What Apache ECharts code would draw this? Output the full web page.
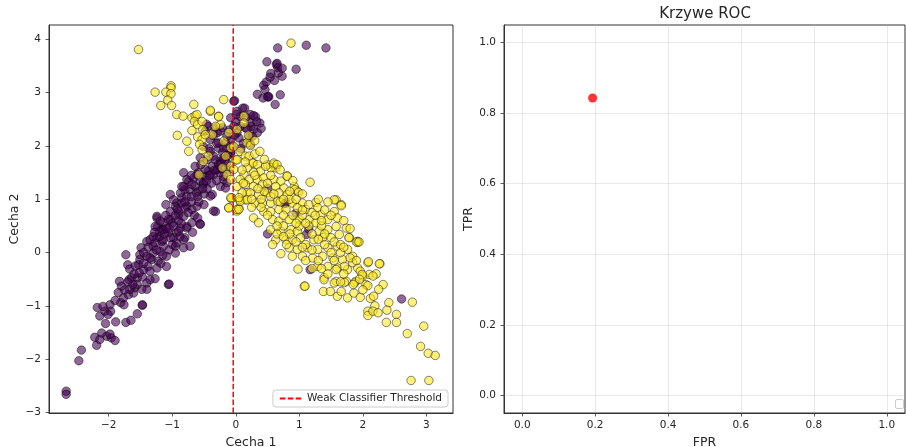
<!DOCTYPE html>
<html>
<head>
<meta charset="utf-8">
<script src="https://cdn.jsdelivr.net/npm/echarts@6/dist/echarts.min.js"></script>
<style>
  html, body { margin: 0; padding: 0; background: #ffffff; }
  #chart { width: 906px; height: 447px; }
</style>
</head>
<body>
<div id="chart"></div>
<script>
// Class 0 samples (Cecha 1, Cecha 2)
const class0Points = [
  [0.66,3.84],[1.11,3.89],[1.42,3.84],[0.95,3.44],[0.49,3.58],[0.64,3.53],[0.66,3.47],[0.73,3.46],[0.55,3.36],[0.61,3.23],
  [0.73,3.31],[0.44,3.14],[0.48,3.20],[0.46,3.06],[0.34,2.97],[0.50,2.92],[0.52,2.92],[0.51,2.93],[0.70,2.96],[0.62,2.78],
  [0.54,3.29],[0.67,3.37],[0.43,2.90],[0.65,3.55],
  [-0.02,2.85],[0.14,2.71],[0.02,2.65],[0.07,2.55],[0.23,2.59],[0.31,2.55],[0.38,2.43],[0.23,2.43],[0.40,2.33],[0.28,2.31],
  [0.15,2.34],[0.34,2.25],[0.07,2.37],[0.21,2.18],[0.05,2.15],[0.23,2.03],[0.28,2.57],[0.33,2.46],[0.24,2.37],[0.18,2.32],
  [0.11,2.71],[0.16,2.54],[0.26,2.18],[0.12,2.05],[0.08,1.95],[0.02,2.25],[0.00,2.45],
  [-2.67,-2.60],[-2.67,-2.66],[-2.47,-2.03],[-2.43,-1.83],[-2.19,-1.74],[-2.22,-1.59],[-2.14,-1.63],[-2.11,-1.51],[-2.03,-1.57],
  [-1.96,-1.60],[-1.90,-1.65],[-1.98,-1.53],[-2.05,-1.33],[-1.89,-1.30],[-1.73,-1.31],[-1.65,-1.27],[-1.55,-1.15],[-2.14,-1.19],
  [-2.06,-1.10],[-2.18,-1.03],[-2.09,-1.01],[-1.98,-0.98],[-1.97,-1.10],[-2.01,-1.16],[-1.81,-0.94],[-1.76,-0.98],[-1.47,-0.99],
  [-1.77,-0.85],[-1.69,-0.79],[-1.61,-0.76],[-1.59,-0.66],[-1.67,-0.69],[-1.83,-0.54],[-1.80,-0.63],[-1.68,-0.51],[-1.64,-0.47],
  [-1.55,-0.47],[-1.47,-0.46],[-1.40,-0.69],[-1.48,-0.69],[-1.27,-0.49],[-1.35,-0.51],[-1.40,-0.57],[-1.70,-0.23],[-1.73,-0.04],
  [-1.67,-0.31],[-1.53,-0.23],[-1.51,-0.13],[-1.45,-0.32],[-1.38,-0.26],[-1.49,0.09],[-1.51,-0.04],[-1.40,-0.07],[-1.32,-0.13],
  [-1.24,-0.29],[-1.22,-0.16],[-1.09,-0.26],[-1.06,-0.60],[-1.40,0.21],[-1.35,0.24],[-1.30,0.12],[-1.24,0.28],[-1.16,0.21],
  [-1.30,-0.01],[-1.19,0.02],[-1.14,0.12],[-1.09,-0.07],[-1.24,0.65],[-1.23,0.49],[-1.14,0.56],[-1.16,0.43],[-1.03,0.62],
  [-1.06,0.37],[-0.98,0.28],[-0.95,0.12],[-0.95,-0.01],[-0.93,0.37],[-0.82,0.09],[-0.87,0.46],[-0.90,0.77],[-1.03,1.09],
  [-0.93,0.93],[-0.85,1.03],[-0.80,1.18],[-0.77,0.87],[-0.82,0.68],[-0.77,0.49],[-0.80,0.28],
  [-1.24,0.68],[-1.19,0.59],[-1.27,0.49],[-1.14,0.43],[-1.06,0.62],[-1.03,0.77],[-0.95,0.87],[-0.90,0.71],[-0.98,0.99],
  [-0.85,0.93],[-0.80,0.84],[-0.87,1.12],[-0.77,1.06],[-0.72,1.18],[-0.82,1.24],[-0.74,1.34],[-0.66,1.40],[-0.64,1.24],
  [-0.59,1.15],[-0.56,1.34],[-0.51,1.28],[-0.48,1.43],[-0.59,1.50],[-0.43,1.53],[-0.35,1.46],[-0.37,1.62],[-0.29,1.56],
  [-0.24,1.68],[-0.32,1.74],[-0.19,1.78],[-0.14,1.68],[-0.21,1.87],[-0.27,1.96],[-0.14,1.96],[-0.08,1.87],[-0.16,2.06],
  [-0.08,2.12],[-0.29,2.25],[-0.43,2.37],[-0.21,2.34],[-0.37,1.09],[-0.40,1.06],[-0.32,0.77],[-0.56,0.53],[-0.69,0.56],
  [-0.77,0.46],[-0.69,0.81],[-0.61,0.87],[-1.03,0.28],[-0.93,0.18],[-0.82,0.24],[-0.72,0.12],[-1.14,0.24],[-1.27,0.18],
  [-0.35,0.78],[-0.56,0.54],[-1.05,-0.59],[-1.47,-0.98],
  [-0.03,2.84],[-0.46,2.41],[-0.48,2.28],[-0.33,2.34],[-0.24,2.28],[-0.08,2.53],[0.01,2.59],[-0.03,2.37],[-0.14,2.18],
  [-0.27,2.06],[-0.40,2.12],[-0.51,1.99],[-0.40,1.90],[-0.19,1.96],[-0.08,1.87],[-0.56,1.78],[-0.45,1.74],[-0.35,1.81],
  [-0.24,1.71],[-0.64,1.62],[-0.82,1.50],[-0.77,1.37],[-0.61,1.46],[-0.48,1.56],[-0.40,1.46],[-0.29,1.56],[-0.19,1.43],
  [-0.51,1.31],[-0.69,1.28],[-0.85,1.24],[-0.24,1.24],[-0.14,1.31],
  [-1.20,0.30],[-1.10,0.45],[-1.00,0.55],[-0.90,0.60],[-0.70,0.95],[-0.60,1.05],[-0.65,0.70],[-0.50,1.10],[-0.45,1.20],
  [-0.30,1.35],[-0.25,1.50],[-0.12,1.55],[-1.35,-0.10],[-1.25,0.05],[-1.15,-0.05],[-1.45,-0.20],[-1.60,-0.40],[-1.55,-0.60],
  [-1.75,-0.70],[-1.00,0.15],[-0.88,0.30],[-1.10,0.90],[-0.95,0.70],[-0.70,1.45],[-0.55,1.65],[-0.42,1.95],[-0.30,2.05],
  [-0.10,2.30],[-0.35,2.20],
  [-1.45,0.00],[-1.38,0.10],[-1.30,0.30],[-1.20,0.40],[-1.12,0.35],[-1.05,0.45],[-0.98,0.50],[-0.92,0.82],[-0.86,0.55],
  [-0.80,0.95],[-0.75,0.75],[-0.70,1.05],[-0.62,1.12],[-0.58,0.95],[-0.52,1.20],[-0.46,1.35],[-0.42,1.45],[-0.38,1.30],
  [-0.33,1.55],[-0.27,1.65],[-0.22,1.58],[-0.17,1.72],[-0.12,1.82],[-0.05,2.00],[-0.02,2.20],[-1.58,-0.25],[-1.62,-0.60],
  [-1.70,-0.55],[-1.52,-0.38],[-1.85,-0.75],[-1.90,-0.90],[-1.35,-0.35],[-1.18,-0.20],[-1.05,0.05],[-0.90,0.40],[-0.68,0.38],
  [-0.60,0.65],[-0.50,0.90],[-1.28,0.38],[-1.10,0.70],
  [0.50,0.35],[1.17,-0.32],[1.11,0.34],[0.95,0.74],[0.50,1.21],[0.77,0.92],[1.15,0.44],[2.61,-0.87],[0.79,0.93],
  [-0.16,1.21],[-0.19,1.37]
];

// Class 1 samples (Cecha 1, Cecha 2)
const class1Points = [
  [-1.53,3.81],[0.87,3.93],[-1.02,3.13],[-1.02,3.09],[-1.27,3.01],[-1.10,3.01],[-1.02,2.98],[-1.07,2.86],[-1.18,2.76],
  [-1.01,2.76],[-0.66,2.78],[-0.19,2.87],[-0.40,2.65],[-0.93,2.59],[-0.83,2.56],[-0.69,2.53],[-0.64,2.57],[-0.61,2.59],
  [-0.65,2.46],[-0.60,2.40],[-0.27,2.56],[-0.24,2.40],[-0.32,2.37],[-0.69,2.29],[-0.60,2.17],[-0.53,2.12],[-0.92,2.20],
  [-0.77,2.09],[-0.74,1.90],[-0.57,2.03],[-0.53,1.93],[-0.43,1.81],[-0.19,2.09],[-0.11,2.25],[-0.37,2.21],[-0.51,1.71],
  [-0.16,1.81],[-0.08,1.96],[-0.21,1.59],[-0.08,1.62],[0.00,1.74],[-0.58,1.46],[-0.14,1.46],[-0.11,0.84],[-0.07,1.01],
  [0.02,0.78],[0.05,0.83],[0.06,0.99],[0.15,0.99],[0.18,1.12],
  [-0.40,2.67],[-0.27,2.55],[0.13,2.56],[0.13,2.43],[0.02,2.31],[0.18,2.06],[0.23,2.01],[-0.03,1.99],[0.07,1.90],
  [0.15,1.81],[0.02,1.74],[0.28,1.68],[-0.03,1.56],[-0.08,1.37],[-0.06,1.03],[0.07,0.96],[-0.11,0.84],[0.02,0.81],
  [-0.52,2.31],[-0.48,2.21],[-0.53,2.46],
  [0.21,1.81],[0.26,1.68],[0.34,1.65],[0.18,1.59],[0.50,1.65],[0.60,1.65],[0.63,1.59],[0.55,1.59],[0.81,1.44],[0.39,1.53],
  [0.28,1.50],[0.13,1.46],[0.07,1.37],[0.21,1.37],[0.34,1.37],[0.44,1.40],[0.60,1.37],[0.71,1.34],[1.17,1.32],[0.02,1.24],
  [0.15,1.28],[0.28,1.24],[0.42,1.28],[0.63,1.24],[0.76,1.21],[0.92,1.24],[0.97,1.15],[0.10,1.12],[0.23,1.12],[0.36,1.09],
  [0.50,1.12],[0.68,1.12],[0.81,1.09],[0.05,1.03],[-0.08,1.03],[0.05,0.81],[0.18,0.99],[0.31,0.93],[0.42,0.93],[0.55,0.93],
  [0.66,0.96],[0.89,0.93],[1.05,0.93],[1.26,0.94],[1.58,0.99],[1.66,0.90],[0.28,0.65],[0.36,0.56],[0.44,0.77],[0.55,0.77],
  [0.68,0.81],[0.79,0.81],[0.97,0.84],[1.10,0.81],[1.29,0.84],[1.34,0.71],[1.45,0.62],[1.55,0.77],[1.60,0.65],[0.58,0.62],
  [0.68,0.59],[0.84,0.62],[1.00,0.62],[1.16,0.62],[1.26,0.56],[0.55,0.43],[0.71,0.40],[0.87,0.43],[0.97,0.40],[1.31,0.40],
  [1.45,0.43],[1.58,0.49],[1.74,0.46],[0.63,0.24],[0.79,0.24],[0.89,0.24],[1.02,0.28],[1.23,0.24],[1.37,0.28],[1.50,0.28],
  [1.63,0.34],[1.79,0.28],[1.92,0.21],[0.58,0.15],[0.71,-0.02],[0.84,0.09],[0.97,0.06],[1.13,0.09],[1.29,0.06],[1.45,0.09],
  [1.60,0.12],[1.76,0.06],[0.89,-0.07],[1.05,-0.07],[1.21,-0.10],[1.37,-0.07],[1.53,-0.10],[1.68,-0.13],[1.84,-0.07],
  [2.08,-0.19],[0.98,-0.31],[1.29,-0.26],[1.45,-0.26],[1.60,-0.29],[1.76,-0.32],[1.92,-0.29],[1.08,-0.63],[1.39,-0.47],
  [1.58,-0.54],[1.74,-0.54],[1.89,-0.54],[2.05,-0.60],
  [1.92,0.19],[2.09,-0.17],[2.27,-0.21],[1.78,0.28],[1.96,-0.35],[2.10,-0.41],[2.21,-0.40],[2.00,-0.44],[1.87,-0.57],
  [2.32,-0.60],[2.25,-0.69],[2.08,-0.62],[1.71,-0.56],[1.55,-0.57],[1.39,-0.51],[1.09,-0.63],[1.38,-0.73],[1.49,-0.73],
  [1.60,-0.82],[1.76,-0.85],[1.86,-0.76],[1.96,-0.84],[2.12,-0.86],[2.17,-0.82],[2.19,-1.00],[2.08,-1.10],[2.08,-1.18],
  [2.16,-1.10],[2.24,-1.13],[2.41,-0.94],[2.38,-1.08],[2.53,-1.16],[2.37,-1.31],[2.53,-1.31],[2.78,-0.93],[2.70,-1.52],
  [2.96,-1.38],[2.91,-1.76],[3.03,-1.89],[3.14,-1.93],[2.76,-2.40],[3.04,-2.40],[1.66,-0.73],[1.58,-0.32],[1.71,-0.26],
  [1.84,-0.19],[1.99,-0.41],[2.16,-0.44],
  [2.26,-0.21],[1.90,0.20],[1.94,0.20],[1.55,0.99],[1.66,0.88],[0.81,1.43],[0.60,1.68],[0.47,1.62],[0.65,1.65],[0.93,1.18],
  [0.99,1.13],
  [0.30,1.45],[0.45,1.15],[0.55,1.05],[0.70,0.95],[0.75,0.70],[0.90,0.70],[1.05,0.70],[1.00,0.50],[1.15,0.50],[1.20,0.35],
  [1.35,0.50],[1.40,0.15],[1.50,0.00],[1.30,-0.15],[1.65,0.00],[1.70,-0.40],[1.55,-0.15],[0.85,1.00],[0.40,1.00],[0.25,0.85],
  [1.10,0.15],[0.75,0.50],[0.65,0.35],[1.20,0.75],[1.40,0.80],[0.15,1.70],[0.30,1.85],[0.10,1.55],[0.45,1.75],[0.20,2.20],
  [0.30,2.10],
  [0.35,1.20],[0.50,1.30],[0.60,1.10],[0.75,1.00],[0.85,1.15],[0.95,1.00],[1.05,0.80],[1.15,0.90],[1.25,0.70],[1.35,0.60],
  [1.10,0.55],[0.95,0.55],[0.85,0.35],[0.75,0.30],[0.95,0.20],[1.05,0.10],[1.20,0.05],[1.30,0.25],[1.40,0.35],[1.55,0.20],
  [1.65,0.15],[1.70,0.10],[1.80,-0.10],[1.90,-0.15],[1.95,-0.50],[1.45,-0.40],[1.20,-0.30],[1.10,-0.15],[0.80,0.15],[0.65,0.50],
  [0.50,0.70],[0.40,0.85],[0.25,1.00],[0.12,1.30],[0.38,1.90],[0.55,1.45],[0.70,1.55],[0.90,1.35],[1.05,1.10],[1.30,1.00],
  [1.45,0.95],[1.50,0.70],[1.70,0.60],[1.80,0.45],[1.35,-0.30],[1.65,-0.55],[1.85,-0.60],[2.00,-0.70]
];

// Decision stump split on Cecha 1
const thresholdX = -0.04;

// Single ROC operating point (FPR, TPR)
const rocPoints = [[0.193, 0.843]];

// Axis extents and tick values
const featXRange = [-2.94, 3.42];
const featYRange = [-3.01, 4.27];
const featXTicks = [-2, -1, 0, 1, 2, 3];
const featYTicks = [-3, -2, -1, 0, 1, 2, 3, 4];
const rateRange = [-0.05, 1.05];
const rateTicks = [0.0, 0.2, 0.4, 0.6, 0.8, 1.0];

const FONT = 'DejaVu Sans';
const INK = '#262626';
const minus = v => String(v).replace('-', '\u2212');

const chart = echarts.init(document.getElementById('chart'), null, { renderer: 'canvas' });

function valueAxis(gridIndex, range, ticks, name, nameGap, labelMargin, fmt) {
  return {
    gridIndex,
    type: 'value',
    min: range[0],
    max: range[1],
    name,
    nameLocation: 'middle',
    nameGap,
    nameTextStyle: { fontFamily: FONT, fontSize: 12.5, color: INK },
    axisLine: { show: true, onZero: false, lineStyle: { color: '#333', width: 1 } },
    axisTick: { show: true, customValues: ticks, length: 3.5, inside: false, lineStyle: { color: '#333', width: 0.8 } },
    axisLabel: { show: true, customValues: ticks, formatter: fmt, fontFamily: FONT, fontSize: 10.5, color: INK, margin: labelMargin },
    splitLine: { show: false }
  };
}

const scatterStyle = (fill) => ({
  color: fill,
  borderColor: 'rgba(0,0,0,0.6)',
  borderWidth: 0.8,
  opacity: 1
});

chart.setOption({
  animation: false,
  backgroundColor: '#ffffff',
  textStyle: { fontFamily: FONT },
  graphic: [
    {
      type: 'text',
      x: 705, y: 7,
      style: { text: 'Krzywe ROC', font: '15px "DejaVu Sans"', fill: INK, textAlign: 'center', textVerticalAlign: 'top' }
    },
    {
      // empty legend frame in the ROC panel
      type: 'rect',
      shape: { x: 895.5, y: 399.5, width: 8, height: 9, r: 1.5 },
      style: { fill: '#ffffff', stroke: '#cccccc', lineWidth: 1 }
    }
  ],
  legend: {
    data: [{ name: 'Weak Classifier Threshold' }],
    right: 458,
    bottom: 40,
    backgroundColor: 'rgba(255,255,255,0.85)',
    borderColor: '#cccccc',
    borderWidth: 1,
    borderRadius: 3,
    padding: [3, 6, 3, 6],
    itemWidth: 22,
    itemHeight: 10,
    itemGap: 6,
    itemStyle: { opacity: 0 },
    textStyle: { fontFamily: FONT, fontSize: 10.5, color: INK },
    selectedMode: false
  },
  grid: [
    { left: 49, right: 453, top: 25, bottom: 34, show: true, borderColor: '#333', borderWidth: 1,
      backgroundColor: 'transparent', containLabel: false, outerBoundsMode: 'none' },
    { left: 504, right: 1, top: 25, bottom: 34, show: true, borderColor: '#333', borderWidth: 1,
      backgroundColor: 'transparent', containLabel: false, outerBoundsMode: 'none' }
  ],
  xAxis: [
    valueAxis(0, featXRange, featXTicks, 'Cecha 1', 21, 7, v => minus(v)),
    valueAxis(1, rateRange, rateTicks, 'FPR', 21, 7, v => v.toFixed(1))
  ],
  yAxis: [
    valueAxis(0, featYRange, featYTicks, 'Cecha 2', 28, 8, v => minus(v)),
    valueAxis(1, rateRange, rateTicks, 'TPR', 28, 8, v => v.toFixed(1))
  ],
  series: [
    {
      name: 'class 0',
      type: 'scatter',
      xAxisIndex: 0, yAxisIndex: 0,
      data: class0Points,
      symbol: 'circle',
      symbolSize: 8.5,
      itemStyle: scatterStyle('rgba(68,1,84,0.6)'),
      z: 2
    },
    {
      name: 'class 1',
      type: 'scatter',
      xAxisIndex: 0, yAxisIndex: 0,
      data: class1Points,
      symbol: 'circle',
      symbolSize: 8.5,
      itemStyle: scatterStyle('rgba(253,231,37,0.6)'),
      z: 2
    },
    {
      name: 'Weak Classifier Threshold',
      type: 'line',
      xAxisIndex: 0, yAxisIndex: 0,
      data: [[thresholdX, featYRange[0]], [thresholdX, featYRange[1]]],
      symbol: 'none',
      showSymbol: false,
      lineStyle: { color: '#ff0000', width: 1.5, type: [5.5, 2.4] },
      itemStyle: { color: '#ff0000' },
      z: 4
    },
    {
      name: 'ROC',
      type: 'scatter',
      xAxisIndex: 1, yAxisIndex: 1,
      data: rocPoints,
      symbol: 'circle',
      symbolSize: 9,
      itemStyle: { color: '#ff0000' },
      z: 3,
      markLine: {
        silent: true,
        symbol: 'none',
        z: 1,
        label: { show: false },
        lineStyle: { color: 'rgba(176,176,176,0.35)', width: 0.8, type: 'solid' },
        emphasis: { disabled: true },
        data: rateTicks.map(v => ({ xAxis: v })).concat(rateTicks.map(v => ({ yAxis: v })))
      }
    }
  ]
});
</script>
</body>
</html>
